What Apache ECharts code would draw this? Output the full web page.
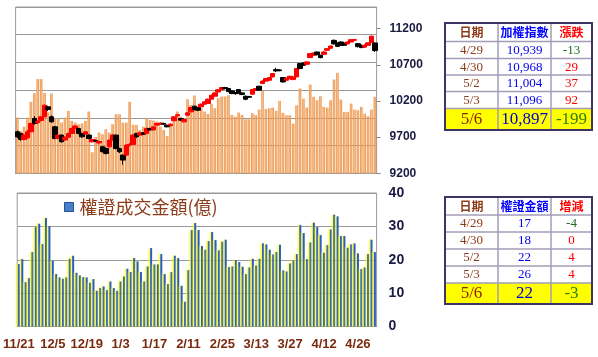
<!DOCTYPE html>
<html>
<head>
<meta charset="utf-8">
<script src="https://cdn.jsdelivr.net/npm/echarts@6/dist/echarts.min.js"></script>
<style>
html,body{margin:0;padding:0;background:#fff;}
#chart{width:598px;height:357px;}
</style>
</head>
<body>
<div id="chart"></div>
<script>
const dates = ['11/21','11/22','11/23','11/26','11/27','11/28','11/29','11/30','12/3','12/4','12/5','12/6','12/7','12/10','12/11','12/12','12/13','12/14','12/17','12/18','12/19','12/20','12/21','12/22','12/24','12/25','12/26','12/27','12/28','1/2','1/3','1/4','1/7','1/8','1/9','1/10','1/11','1/14','1/15','1/16','1/17','1/18','1/21','1/22','1/23','1/24','1/25','1/28','1/29','1/30','2/11','2/12','2/13','2/14','2/15','2/18','2/19','2/20','2/21','2/22','2/25','2/26','2/27','3/4','3/5','3/6','3/7','3/8','3/11','3/12','3/13','3/14','3/15','3/18','3/19','3/20','3/21','3/22','3/25','3/26','3/27','3/28','3/29','4/1','4/2','4/3','4/8','4/9','4/10','4/11','4/12','4/15','4/16','4/17','4/18','4/19','4/22','4/23','4/24','4/25','4/26','4/29','4/30','5/2','5/3','5/6'];

// [open, close, low, high]
const candles = [
[9774,9705,9690,9790],[9752,9668,9650,9760],[9668,9728,9655,9745],[9690,9774,9680,9800],[9774,9889,9770,9900],
[9958,9889,9870,9990],[9900,9920,9880,9935],[9930,9981,9915,9990],[9981,10142,9975,10150],[10119,10082,10060,10135],
[9981,9912,9900,10000],[9843,9682,9670,9855],[9682,9728,9670,9740],[9728,9636,9625,9735],[9660,9700,9650,9710],
[9700,9751,9690,9760],[9751,9820,9745,9830],[9820,9854,9810,9865],[9820,9751,9740,9830],[9751,9705,9690,9760],
[9742,9774,9735,9785],[9728,9682,9670,9740],[9636,9668,9625,9680],[9655,9645,9630,9665],[9620,9640,9600,9650],
[9567,9498,9490,9580],[9544,9475,9460,9560],[9567,9659,9555,9665],[9659,9728,9650,9740],[9728,9544,9530,9735],
[9540,9498,9480,9555],[9452,9383,9319,9460],[9452,9590,9440,9600],[9590,9600,9570,9620],[9600,9728,9595,9740],
[9751,9705,9690,9760],[9728,9760,9720,9775],[9760,9740,9730,9770],[9751,9820,9745,9830],[9820,9800,9790,9830],
[9800,9843,9795,9850],[9866,9889,9860,9900],[9880,9895,9870,9905],[9890,9880,9870,9900],[9866,9843,9835,9875],
[9860,9880,9850,9890],[9926,9981,9920,9990],[9995,10010,9985,10020],[9958,9935,9925,9965],[9912,9944,9905,9950],
[10004,10036,9995,10045],[10050,10110,10045,10120],[10128,10082,10070,10135],[10110,10073,10060,10115],[10119,10156,10110,10165],
[10156,10188,10150,10195],[10165,10225,10160,10235],[10225,10280,10220,10290],[10266,10312,10260,10320],[10325,10355,10315,10365],
[10355,10386,10350,10395],[10386,10372,10360,10395],[10372,10330,10320,10380],[10340,10303,10295,10345],[10310,10300,10290,10325],
[10358,10312,10300,10365],[10312,10290,10280,10320],[10266,10225,10211,10275],[10262,10252,10240,10270],[10294,10358,10290,10365],
[10349,10372,10340,10380],[10404,10349,10340,10410],[10441,10475,10435,10485],[10475,10510,10470,10520],[10487,10524,10480,10530],
[10533,10579,10525,10585],[10634,10616,10600,10660],[10630,10620,10610,10640],[10524,10464,10455,10530],[10487,10515,10480,10525],
[10510,10542,10500,10550],[10496,10533,10490,10540],[10533,10648,10530,10655],[10717,10648,10640,10725],[10726,10694,10685,10735],
[10708,10740,10700,10750],[10800,10855,10795,10860],[10832,10864,10825,10870],[10878,10840,10830,10885],[10832,10800,10790,10840],
[10846,10878,10840,10890],[10901,10924,10895,10930],[10930,10960,10920,10970],[11039,10990,10980,11050],[11000,10956,10950,11010],
[11016,10970,10960,11025],[11002,10970,10960,11010],[10990,11016,10985,11025],[11016,11048,11010,11055],[11040,11048,11030,11060],
[10993,10952,10940,11000],[10970,10939,10930,10980],[10945,10968,10935,10985],[10970,11004,10965,11010],[11010,11096,11005,11105],
[11002,10897,10880,11010]
];

const volume = [
1005,760,840,1005,1290,1445,1700,1700,1450,1100,
1440,980,995,915,1005,1125,945,915,885,900,
945,1115,380,655,735,705,795,735,885,1065,
1065,915,915,1290,875,873,783,843,993,963,
951,933,843,783,674,873,963,1114,1023,975,
1336,1234,1403,1204,1174,1114,1072,1252,1174,1355,
1385,1385,1409,1054,1023,1096,1054,975,975,1084,
1050,1150,1487,1162,1174,1186,1126,1306,1090,1047,
1047,897,1228,1529,1348,1186,1601,1379,1318,1391,
1198,1186,1318,1692,1812,1330,1108,1108,1258,1150,
1138,1198,1078,1029,1150,1379
];

const warrant = [
18.7,20.2,13.3,14.5,22.3,29.8,30.8,24.7,32.5,30.1,
19.7,15.7,14.7,14.3,14.7,20.3,21.2,16.1,15.3,14.8,
14.7,13.1,14.2,10.7,11.5,12.0,10.9,13.5,11.5,10.7,
13.5,15.0,17.3,16.3,20.5,19.5,16.3,13.5,18.0,23.5,
18.6,18.6,21.7,15.7,12.7,16.3,21.2,20.5,12.2,7.4,
16.9,28.9,31.0,28.9,24.1,23.0,25.6,28.3,25.9,22.8,
25.4,26.0,17.8,18.0,19.9,19.3,17.9,15.7,17.7,20.3,
18.3,20.3,24.9,24.6,23.0,21.6,22.3,24.5,16.8,16.5,
18.9,19.8,21.7,30.4,28.0,20.2,25.2,31.1,29.8,27.4,
22.1,24.4,29.1,33.5,33.0,27.1,27.1,23.6,24.6,24.9,
21.9,17.2,17.7,21.7,26.0,22.3
];

const legendName = '權證成交金額(億)';

const t1Header = ['日期','加權指數','漲跌'];
const t1Dates = ['4/29','4/30','5/2','5/3','5/6'];
const t1Index = ['10,939','10,968','11,004','11,096','10,897'];
const t1Change = ['-13','29','37','92','-199'];

const t2Header = ['日期','權證金額','增減'];
const t2Dates = ['4/29','4/30','5/2','5/3','5/6'];
const t2Amount = ['17','18','22','26','22'];
const t2Change = ['-4','0','4','4','-3'];

function buildTable(cols, rows, header, c1, c2, c3) {
  const els = [];
  const x0 = cols[0], x3 = cols[3];
  els.push({type:'rect', shape:{x:x0, y:rows[5], width:x3-x0, height:rows[6]-rows[5]}, style:{fill:'#FFFF00'}});
  for (let i = 1; i <= 5; i++) {
    els.push({type:'line', shape:{x1:x0, y1:rows[i], x2:x3, y2:rows[i]}, style:{stroke:'#A49CB8', lineWidth:1.5}});
  }
  for (let j = 1; j <= 2; j++) {
    els.push({type:'line', shape:{x1:cols[j], y1:rows[0], x2:cols[j], y2:rows[6]}, style:{stroke:'#A49CB8', lineWidth:1.5}});
  }
  els.push({type:'rect', shape:{x:x0, y:rows[0], width:x3-x0, height:rows[6]-rows[0]}, style:{fill:null, stroke:'#3E3566', lineWidth:2}});
  const hdrColors = ['#8B3A1A','#0000FF','#FF0000'];
  for (let j = 0; j < 3; j++) {
    els.push({type:'text', style:{text:header[j], x:(cols[j]+cols[j+1])/2, y:(rows[0]+rows[1])/2+0.5,
      textAlign:'center', textVerticalAlign:'middle', fill:hdrColors[j], font:'bold 12px "Noto Sans CJK TC"'}});
  }
  for (let i = 0; i < 5; i++) {
    const last = i === 4;
    const cy = (rows[i+1]+rows[i+2])/2 + 0.5;
    const sz = last ? 17 : 13;
    const font = sz + 'px "Liberation Serif", "Times New Roman", serif';
    const neg = c3[i].charAt(0) === '-';
    els.push({type:'text', style:{text:c1[i], x:(cols[0]+cols[1])/2, y:cy, textAlign:'center', textVerticalAlign:'middle', fill: last ? '#8B2500' : '#8B3A1A', font:font}});
    els.push({type:'text', style:{text:c2[i], x:(cols[1]+cols[2])/2, y:cy, textAlign:'center', textVerticalAlign:'middle', fill: last ? '#0000CC' : '#0000EE', font:font}});
    els.push({type:'text', style:{text:c3[i], x:(cols[2]+cols[3])/2, y:cy, textAlign:'center', textVerticalAlign:'middle', fill: neg ? (last ? '#2E7D00' : '#1E6B1E') : '#FF0000', font:font}});
  }
  return els;
}

const tableCols = [445, 498, 551, 592];
const graphics = []
  .concat(buildTable(tableCols, [23, 41.5, 58.5, 75, 91.5, 108.5, 130], t1Header, t1Dates, t1Index, t1Change))
  .concat(buildTable(tableCols, [197, 215, 232, 249, 266, 283, 304], t2Header, t2Dates, t2Amount, t2Change));

const chart = echarts.init(document.getElementById('chart'), null, {renderer:'canvas'});
const axisLabelFont = '"Liberation Sans", Arial, sans-serif';

chart.setOption({
  animation: false,
  backgroundColor: '#ffffff',
  grid: [
    {left: 15.6, top: 7, width: 361, height: 166.3, show: true, borderColor: '#9a9a9a', borderWidth: 1},
    {left: 15.6, top: 193, width: 361, height: 133.5, show: true, borderColor: '#9a9a9a', borderWidth: 1}
  ],
  legend: {
    data: [{name: legendName, itemStyle: {color: '#4A7EC8', borderColor: '#24509A', borderWidth: 1, shadowBlur: 0, shadowOffsetX: 0}}],
    left: 59, top: 193, itemWidth: 9, itemHeight: 9, icon: 'rect', selectedMode: false,
    textStyle: {fontSize: 18, color: '#8B3A1A', fontFamily: '"Noto Sans CJK TC"', padding: [0,0,0,1]}
  },
  xAxis: [
    {type: 'category', gridIndex: 0, data: dates, axisLabel: {show: false}, axisTick: {show: false},
     axisLine: {lineStyle: {color: '#9a9a9a'}}},
    {type: 'category', gridIndex: 1, data: dates,
     axisLabel: {interval: 9, color: '#7B2A10', fontWeight: 'bold', fontSize: 13, fontFamily: axisLabelFont, margin: 11},
     axisTick: {interval: 0, length: 3, lineStyle: {color: '#9a9a9a'}},
     axisLine: {lineStyle: {color: '#9a9a9a'}}}
  ],
  yAxis: [
    {type: 'value', gridIndex: 0, position: 'right', min: 9200, max: 11500, interval: 500,
     axisLabel: {showMaxLabel: false, margin: 13, fontSize: 12, fontWeight: 'bold', color: '#1A1A40', fontFamily: axisLabelFont,
       formatter: function (v) { return String(v); }},
     axisTick: {show: true, length: 4, lineStyle: {color: '#888'}}, axisLine: {show: false}, splitLine: {show: false}},
    {type: 'value', gridIndex: 0, position: 'left', min: 0, max: 3000, interval: 500,
     axisLabel: {show: false}, axisTick: {show: false}, axisLine: {show: false},
     splitLine: {lineStyle: {color: '#9a9a9a', width: 1}}},
    {type: 'value', gridIndex: 1, position: 'right', min: 0, max: 40, interval: 10,
     axisLabel: {margin: 12, fontSize: 14, fontWeight: 'bold', color: '#1A1A40', fontFamily: axisLabelFont},
     axisTick: {show: false}, axisLine: {show: false},
     splitLine: {lineStyle: {color: '#9a9a9a', width: 1}}}
  ],
  series: [
    {type: 'bar', name: '成交量', xAxisIndex: 0, yAxisIndex: 1, data: volume, barWidth: 2.6, z: 2,
     itemStyle: {opacity: 0.9, color: new echarts.graphic.LinearGradient(0,0,1,0,[
       {offset:0, color:'#E8832C'},{offset:0.5, color:'#F5B47C'},{offset:1, color:'#E8832C'}])}},
    {type: 'candlestick', name: '加權指數', xAxisIndex: 0, yAxisIndex: 0, data: candles, barWidth: 5, z: 3,
     itemStyle: {color: '#FF0000', color0: '#000000', borderColor: '#FF0000', borderColor0: '#000000', borderWidth: 1}},
    {type: 'bar', name: legendName, xAxisIndex: 1, yAxisIndex: 2, data: warrant, barWidth: 2,
     itemStyle: {color: '#2A5CC8', shadowColor: 'rgba(255,255,0,1)', shadowBlur: 2, shadowOffsetX: -1.3}}
  ],
  graphic: graphics
});
</script>
</body>
</html>
